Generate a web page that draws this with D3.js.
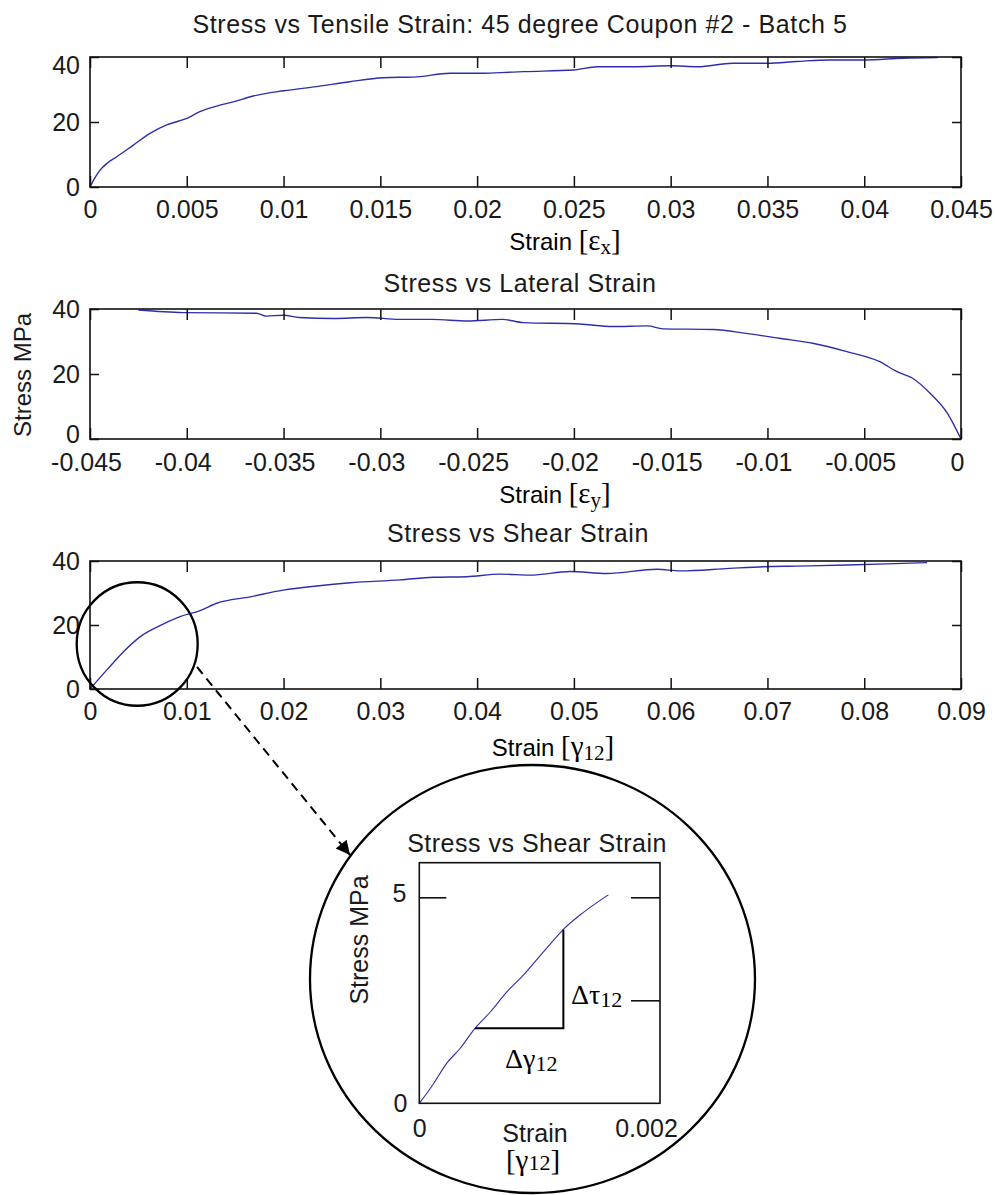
<!DOCTYPE html>
<html><head><meta charset="utf-8">
<script src="https://cdn.jsdelivr.net/npm/d3@7"></script>
<style>
html,body{margin:0;padding:0;background:#fff;}
svg{display:block;}
.sans{font-family:"Liberation Sans",Arial,sans-serif;fill:#1a1a1a;}
.serif{font-family:"Liberation Serif","Times New Roman",serif;fill:#000;}
</style></head>
<body>
<svg id="c" width="995" height="1195"></svg>
<script>
// ---------- DATA ----------
const tensileStrain = [0, 0.00025, 0.00052, 0.0009, 0.00138, 0.00224, 0.0031, 0.00396, 0.005, 0.00568, 0.00655, 0.0074, 0.00844, 0.01, 0.0117, 0.01343, 0.01515, 0.01688, 0.0186, 0.0202, 0.0212, 0.0224, 0.025, 0.0262, 0.0281, 0.03, 0.0314, 0.0332, 0.035, 0.0365, 0.0382, 0.04, 0.042, 0.0438];
const tensileStress = [0, 2.8, 5.2, 7.4, 9.3, 12.9, 16.5, 19.1, 21.1, 23.2, 24.9, 26.2, 28.0, 29.6, 30.9, 32.4, 33.6, 33.9, 35.0, 35.0, 35.2, 35.5, 36.0, 37.0, 37.0, 37.3, 37.0, 38.1, 38.1, 38.6, 39.1, 39.1, 39.6, 39.8];

const lateralStrain = [-0.0425, -0.0402, -0.0364, -0.0359, -0.035, -0.0342, -0.0324, -0.0307, -0.029, -0.0273, -0.0255, -0.0237, -0.0226, -0.0197, -0.018, -0.0162, -0.0154, -0.0128, -0.0111, -0.0094, -0.0076, -0.0059, -0.0042, -0.0033, -0.0025, -0.0016, -0.0007, 0];
const lateralStress = [39.7, 38.9, 38.7, 37.8, 38.1, 37.4, 37.1, 37.4, 36.8, 36.8, 36.3, 36.8, 35.8, 35.4, 34.6, 34.8, 33.9, 33.7, 32.5, 31.0, 29.4, 26.9, 23.8, 20.7, 18.7, 14.1, 7.9, 0];

const shearStrain = [0, 0.00172, 0.00344, 0.00517, 0.00723, 0.0093, 0.01137, 0.01309, 0.01653, 0.01997, 0.02342, 0.02687, 0.03203, 0.03547, 0.03892, 0.0424, 0.0455, 0.0496, 0.0534, 0.0586, 0.061, 0.0661, 0.0696, 0.073, 0.0782, 0.0823, 0.0865];
const shearStress = [0, 5.9, 11.6, 16.3, 19.8, 22.6, 24.5, 26.8, 28.8, 30.9, 32.2, 33.2, 34.1, 34.9, 35.1, 35.9, 35.6, 36.7, 36.1, 37.4, 36.9, 37.7, 38.2, 38.4, 38.75, 39.1, 39.5];

const insetStrain = [0, 0.000124, 0.000241, 0.000359, 0.000491, 0.000624, 0.000771, 0.000918, 0.001065, 0.001182, 0.001271, 0.001418, 0.001535, 0.001668];
const insetStress = [0, 0.47, 0.97, 1.33, 1.82, 2.21, 2.70, 3.11, 3.58, 3.95, 4.22, 4.57, 4.81, 5.06];

const tensileTicks = [0, 0.005, 0.01, 0.015, 0.02, 0.025, 0.03, 0.035, 0.04, 0.045];
const tensileTickLabels = ["0", "0.005", "0.01", "0.015", "0.02", "0.025", "0.03", "0.035", "0.04", "0.045"];
const lateralTicks = [-0.045, -0.04, -0.035, -0.03, -0.025, -0.02, -0.015, -0.01, -0.005, 0];
const lateralTickLabels = ["-0.045", "-0.04", "-0.035", "-0.03", "-0.025", "-0.02", "-0.015", "-0.01", "-0.005", "0"];
const shearTicks = [0, 0.01, 0.02, 0.03, 0.04, 0.05, 0.06, 0.07, 0.08, 0.09];
const shearTickLabels = ["0", "0.01", "0.02", "0.03", "0.04", "0.05", "0.06", "0.07", "0.08", "0.09"];
const stressTicks = [0, 20, 40];
const stressTickLabels = ["0", "20", "40"];

const insetXTicks = [0, 0.002];
const insetXTickLabels = ["0", "0.002"];
const insetYTicks = [0, 5];
const insetYTickLabels = ["0", "5"];
const insetRightTicks = [2.5, 5];
const slopeStrain = [0.000491, 0.001271];
const slopeStress = [1.82, 4.22];

const titles = ["Stress vs Tensile Strain: 45 degree Coupon #2 - Batch 5", "Stress vs Lateral Strain", "Stress vs Shear Strain"];

// ---------- DRAW ----------
const svg = d3.select("#c");
const LINE = "#2e2eaa";
const AX = "#111";

function panel(o) {
  const x = d3.scaleLinear().domain(o.xdom).range([90, 961]);
  const y = d3.scaleLinear().domain([0, 40]).range([o.bottom, o.top]);
  const g = svg.append("g");
  g.append("path")
    .datum(d3.zip(o.xs, o.ys))
    .attr("fill", "none").attr("stroke", LINE).attr("stroke-width", 1.4)
    .attr("d", d3.line().curve(d3.curveMonotoneX).x(d => x(d[0])).y(d => y(d[1])));
  const fmtX = d => o.xlabels[o.xticks.indexOf(d)];
  const fmtY = d => stressTickLabels[stressTicks.indexOf(d)];
  const ab = g.append("g").attr("transform", `translate(0,${o.bottom})`)
    .call(d3.axisBottom(x).tickValues(o.xticks).tickFormat(fmtX).tickSize(-11).tickPadding(o.xPad || 13));
  const at = g.append("g").attr("transform", `translate(0,${o.top})`)
    .call(d3.axisTop(x).tickValues(o.xticks).tickFormat("").tickSize(-11));
  const al = g.append("g").attr("transform", `translate(90,0)`)
    .call(d3.axisLeft(y).tickValues(stressTicks).tickFormat(fmtY).tickSize(-9).tickPadding(10));
  const ar = g.append("g").attr("transform", `translate(961,0)`)
    .call(d3.axisRight(y).tickValues(stressTicks).tickFormat("").tickSize(-9));
  [ab, at, al, ar].forEach(a => {
    a.select(".domain").remove();
    a.selectAll("line").attr("stroke", AX).attr("stroke-width", 1.5);
    a.selectAll("text").attr("class", "sans").attr("font-size", 25).attr("fill", "#1a1a1a");
  });
  if (o.labelShiftX) ab.selectAll("text").attr("x", o.labelShiftX);
  if (o.topLabelShift) al.selectAll(".tick").filter(d => d === 40).select("text").attr("y", o.topLabelShift);
  if (o.zeroLabelShift) al.selectAll(".tick").filter(d => d === 0).select("text").attr("y", o.zeroLabelShift);
  g.append("rect").attr("x", 90).attr("y", o.top).attr("width", 871).attr("height", o.bottom - o.top)
    .attr("fill", "none").attr("stroke", AX).attr("stroke-width", 1.6);
  g.append("text").attr("class", "sans").attr("font-size", 25).attr("letter-spacing", 0.6).attr("text-anchor", "middle")
    .attr("x", o.titleX).attr("y", o.titleY).text(o.title);
  const t = g.append("text").attr("text-anchor", "middle").attr("x", o.labX).attr("y", o.labY);
  t.append("tspan").attr("class", "sans").attr("font-size", 24).style("fill", "#000").text("Strain ");
  t.append("tspan").attr("class", "serif").attr("font-size", 29).text("[" + o.sym);
  t.append("tspan").attr("class", "serif").attr("font-size", 21).attr("dy", 4).text(o.sub);
  t.append("tspan").attr("class", "serif").attr("font-size", 29).attr("dy", -4).text("]");
  return {x, y};
}

panel({xdom: [0, 0.045], xs: tensileStrain, ys: tensileStress, xticks: tensileTicks, xlabels: tensileTickLabels,
  top: 57, bottom: 187, title: titles[0], titleX: 520, titleY: 33, labX: 565, labY: 250, sym: "ε", sub: "x", topLabelShift: 8});
panel({xdom: [-0.045, 0], xs: lateralStrain, ys: lateralStress, xticks: lateralTicks, xlabels: lateralTickLabels,
  top: 309, bottom: 439, title: titles[1], titleX: 520, titleY: 292, labX: 555, labY: 503, sym: "ε", sub: "y",
  labelShiftX: -4, xPad: 14, zeroLabelShift: -4.5});
const p3 = panel({xdom: [0, 0.09], xs: shearStrain, ys: shearStress, xticks: shearTicks, xlabels: shearTickLabels,
  top: 561, bottom: 689, title: titles[2], titleX: 518, titleY: 542, labX: 553, labY: 756, sym: "γ", sub: "12"});

svg.append("text").attr("class", "sans").attr("font-size", 24).attr("text-anchor", "middle")
  .attr("transform", "translate(31,375) rotate(-90)").text("Stress MPa");

// ---------- ZOOM ANNOTATION ----------
const zc = {sx: 0.004877, sy: 14.06, rsx: 0.00625, rsy: 19.3};
svg.append("ellipse")
  .attr("cx", p3.x(zc.sx)).attr("cy", p3.y(zc.sy))
  .attr("rx", p3.x(zc.rsx) - p3.x(0)).attr("ry", p3.y(0) - p3.y(zc.rsy))
  .attr("fill", "none").attr("stroke", "#000").attr("stroke-width", 2.3);

const BC = {cx: 532.5, cy: 979, rx: 222.5, ry: 214};
svg.append("ellipse").attr("cx", BC.cx).attr("cy", BC.cy).attr("rx", BC.rx).attr("ry", BC.ry)
  .attr("fill", "none").attr("stroke", "#000").attr("stroke-width", 2.3);

svg.append("defs").append("marker").attr("id", "ah").attr("viewBox", "0 0 10 10")
  .attr("refX", 10).attr("refY", 5).attr("markerWidth", 8.5).attr("markerHeight", 7)
  .attr("markerUnits", "strokeWidth").attr("orient", "auto")
  .append("path").attr("d", "M0,0 L10,5 L0,10 z").attr("fill", "#000");
svg.append("line").attr("x1", 197).attr("y1", 667).attr("x2", 350).attr("y2", 855)
  .attr("stroke", "#000").attr("stroke-width", 2).attr("stroke-dasharray", "9,6")
  .attr("marker-end", "url(#ah)");

// inset plot
const IL = 419.3, IR = 660, IT = 862.7, IB = 1103.3;
const ix = d3.scaleLinear().domain([0, 0.002]).range([IL, 646]);
const iy = d3.scaleLinear().domain([0, 5]).range([IB, 897.3]);
const ig = svg.append("g");
ig.append("path").datum(d3.zip(insetStrain, insetStress))
  .attr("fill", "none").attr("stroke", LINE).attr("stroke-width", 1.1)
  .attr("d", d3.line().curve(d3.curveMonotoneX).x(d => ix(d[0])).y(d => iy(d[1])));
const iaL = ig.append("g").attr("transform", `translate(${IL},0)`)
  .call(d3.axisLeft(iy).tickValues(insetYTicks).tickFormat(d => insetYTickLabels[insetYTicks.indexOf(d)]).tickSize(-27).tickPadding(12));
const iaR = ig.append("g").attr("transform", `translate(${IR},0)`)
  .call(d3.axisRight(iy).tickValues(insetRightTicks).tickFormat("").tickSize(-29));
const iaB = ig.append("g").attr("transform", `translate(0,${IB})`)
  .call(d3.axisBottom(ix).tickValues(insetXTicks).tickFormat(d => insetXTickLabels[insetXTicks.indexOf(d)]).tickSize(0).tickPadding(16));
[iaL, iaR, iaB].forEach(a => {
  a.select(".domain").remove();
  a.selectAll("line").attr("stroke", AX).attr("stroke-width", 1.6);
  a.selectAll("text").attr("class", "sans").attr("font-size", 25).attr("fill", "#1a1a1a");
});
iaL.selectAll(".tick").filter(d => d === 0).select("line").remove();
iaL.selectAll(".tick").filter(d => d === 5).select("text").attr("x", -13).attr("dy", "0.15em");
ig.append("rect").attr("x", IL).attr("y", IT).attr("width", IR - IL).attr("height", IB - IT)
  .attr("fill", "none").attr("stroke", AX).attr("stroke-width", 1.6);
ig.append("text").attr("class", "sans").attr("font-size", 25).attr("letter-spacing", 0.5).attr("text-anchor", "middle")
  .attr("x", 537).attr("y", 852).text("Stress vs Shear Strain");
ig.append("text").attr("class", "sans").attr("font-size", 25).attr("text-anchor", "middle")
  .attr("transform", "translate(368,940) rotate(-90)").text("Stress MPa");
ig.append("text").attr("class", "sans").attr("font-size", 25).attr("text-anchor", "middle")
  .attr("x", 535).attr("y", 1142).text("Strain");
const gl = ig.append("text").attr("text-anchor", "middle").attr("x", 533).attr("y", 1170);
gl.append("tspan").attr("class", "serif").attr("font-size", 29).text("[γ");
gl.append("tspan").attr("class", "serif").attr("font-size", 22).text("12");
gl.append("tspan").attr("class", "serif").attr("font-size", 29).text("]");

ig.append("path")
  .attr("d", `M${ix(slopeStrain[0])},${iy(slopeStress[0])} H${ix(slopeStrain[1])} V${iy(slopeStress[1])}`)
  .attr("fill", "none").attr("stroke", "#000").attr("stroke-width", 2);
const dt = ig.append("text").attr("x", 571).attr("y", 1004);
dt.append("tspan").attr("class", "serif").attr("font-size", 28).text("Δτ");
dt.append("tspan").attr("class", "serif").attr("font-size", 22).attr("dy", 3).text("12");
const dg = ig.append("text").attr("x", 505).attr("y", 1068);
dg.append("tspan").attr("class", "serif").attr("font-size", 28).text("Δγ");
dg.append("tspan").attr("class", "serif").attr("font-size", 22).attr("dy", 3).text("12");
</script>
</body></html>
